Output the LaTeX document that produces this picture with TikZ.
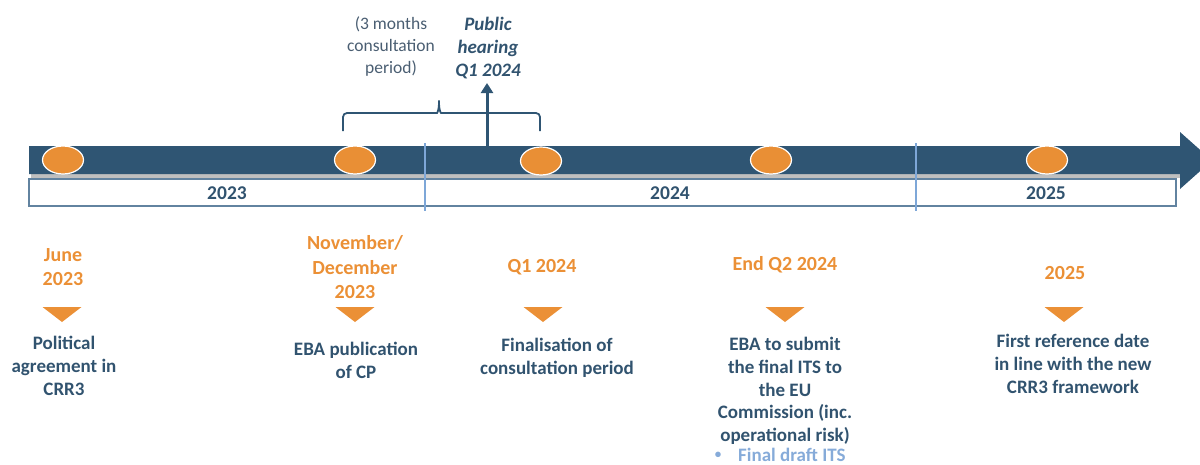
\documentclass[tikz,border=0pt]{standalone}
\usepackage{fontspec}
\setmainfont{Carlito}
\usetikzlibrary{arrows.meta,shapes.geometric}
\definecolor{band}{HTML}{2F5573}
\definecolor{dotc}{HTML}{E98F35}
\definecolor{ora}{HTML}{EB9036}
\definecolor{txt}{HTML}{31536F}
\definecolor{divider}{HTML}{7EA7D8}
\definecolor{greytxt}{HTML}{4A5E72}
\definecolor{boxline}{HTML}{6283A0}
\definecolor{bullet}{HTML}{86ABD9}
\begin{document}
\begin{tikzpicture}[x=1pt,y=-1pt,
  datelbl/.style={font=\fontsize{20}{24.5}\selectfont\bfseries, text=ora, align=center, inner sep=0pt},
  desc/.style={font=\fontsize{19}{22.8}\selectfont\bfseries, text=txt, align=center, inner sep=0pt},
  yearlbl/.style={font=\fontsize{19.5}{20}\selectfont\bfseries, text=txt, inner sep=0pt},
  milestone/.style={ellipse, fill=dotc, draw=white, line width=1.2pt, minimum width=41pt, minimum height=28pt, inner sep=0pt},
  pointer/.style={fill=ora},
  divline/.style={divider, line width=2.5pt},
  brace/.style={band, line width=1.8pt, rounded corners=4pt}
]
\useasboundingbox (0,0) rectangle (1200,464);
\clip (0,0) rectangle (1200,464);

% shadow of band
\fill[black!25] (31,174) rectangle (1180,178);
% main band with arrow head
\fill[band] (29,146) -- (1180,146) -- (1180,132) -- (1212,160.5) -- (1180,189) -- (1180,174) -- (29,174) -- cycle;
% year box
\draw[boxline, line width=1.2pt, fill=white] (29,179) rectangle (1176,206);
% year dividers
\draw[divline] (425,143) -- (425,211);
\draw[divline] (916,143) -- (916,211);

% year labels
\node[yearlbl] (y23) at (227,193) {2023};
\node[yearlbl] (y24) at (670,193) {2024};
\node[yearlbl] (y25) at (1046,193) {2025};

% milestones
\node[milestone] (m1) at (63,160) {};
\node[milestone] (m2) at (355,160) {};
\node[milestone] (m3) at (541,161) {};
\node[milestone] (m4) at (771,160) {};
\node[milestone] (m5) at (1047,160) {};

% bracket
\draw[brace] (343,131) -- (343,113) -- (433,113)
  .. controls (437,113) and (439,111) .. (439,98)
  .. controls (439,111) and (441,113) .. (445,113)
  -- (540,113) -- (540,131);

% top annotations
\node[font=\fontsize{17.5}{22}\selectfont, text=greytxt, align=center, inner sep=0pt] (consult) at (391,47) {(3 months\\consultation\\period)};
\node[font=\fontsize{19}{23}\selectfont\bfseries\itshape, text=txt, align=center, inner sep=0pt] (ph) at (488,48) {Public\\hearing\\Q1 2024};
\coordinate (phfoot) at (487,146);
\coordinate (phtip) at (487,83);
\draw[band, line width=3pt, -{Triangle[width=12pt,length=10pt]}] (phfoot) -- (phtip);

% date labels
\node[datelbl] (d1) at (63,267) {June\\2023};
\node[datelbl] (d2) at (355,267.5) {November/\\December\\2023};
\node[datelbl] (d3) at (542,267) {Q1 2024};
\node[datelbl] (d4) at (785,265) {End Q2 2024};
\node[datelbl] (d5) at (1065,273) {2025};

% pointers
\foreach \cx in {62,355,543,785,1064}{
  \fill[pointer] (\cx-19.5,307) -- (\cx+19.5,307) -- (\cx,322) -- cycle;
}

% descriptions
\node[desc] (t1) at (64,366) {Political\\agreement in\\CRR3};
\node[desc] (t2) at (356,360) {EBA publication\\of CP};
\node[desc] (t3) at (557,358) {Finalisation of\\consultation period};
\node[desc] (t4) at (785,391) {EBA to submit\\the final ITS to\\the EU\\Commission (inc.\\operational risk)};
\node[font=\fontsize{13}{14}\selectfont\bfseries, text=bullet, inner sep=0pt] (t4bul) at (718,455) {\textbullet};
\node[font=\fontsize{19}{20}\selectfont\bfseries, text=bullet, inner sep=0pt, anchor=base west] (t4b) at (738,461) {Final draft ITS};
\node[desc] (t5) at (1073,364) {First reference date\\in line with the new\\CRR3 framework};
\end{tikzpicture}
\end{document}
